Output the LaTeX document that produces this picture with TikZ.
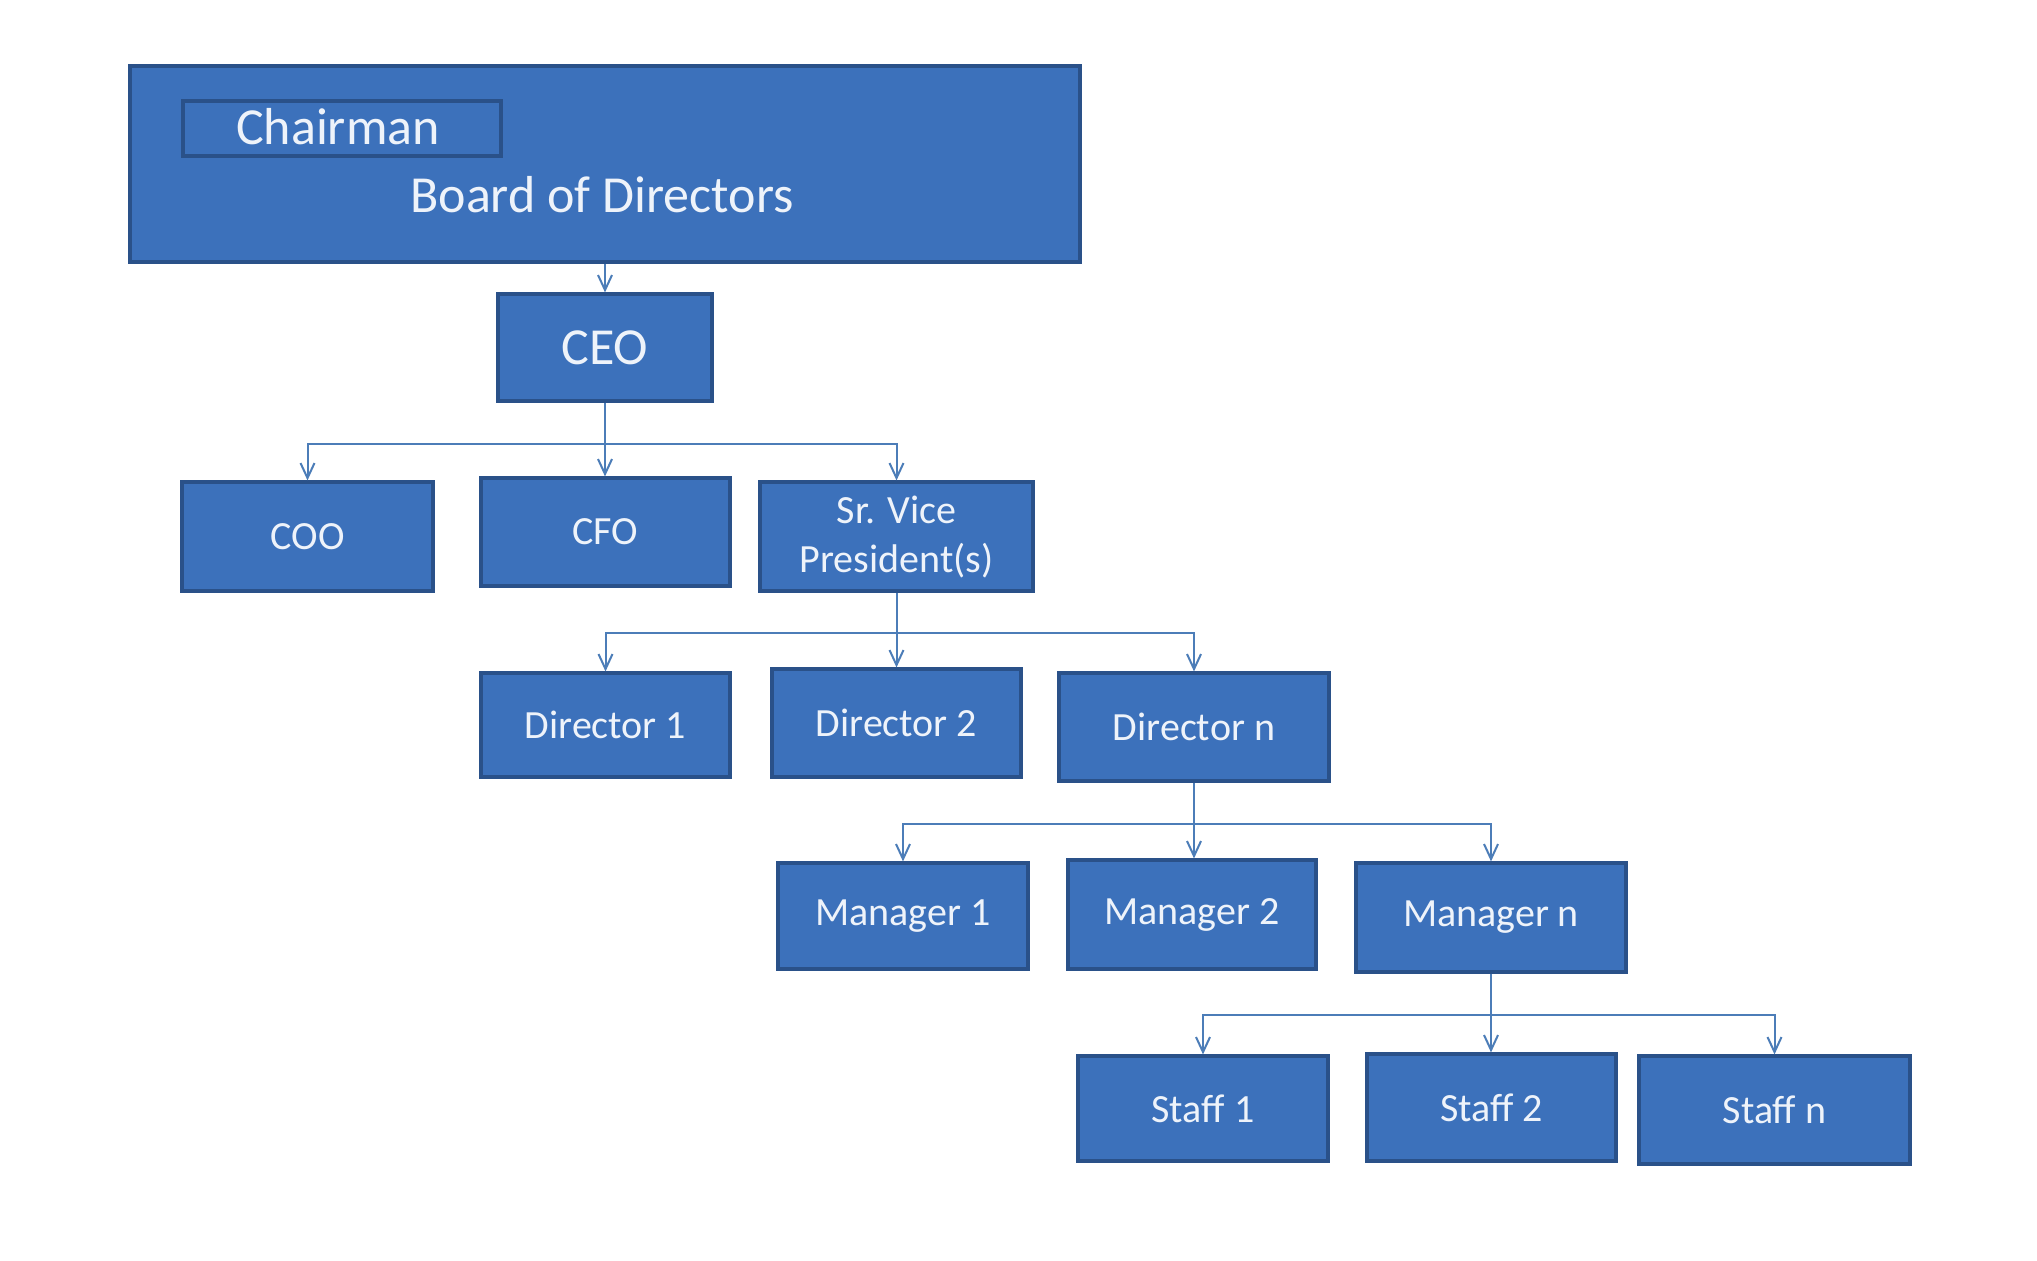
\documentclass[tikz,border=0pt]{standalone}
\usepackage{fontspec}
\setmainfont{Carlito}
\usetikzlibrary{arrows.meta}
\definecolor{boxfill}{HTML}{3C71BB}
\definecolor{boxline}{HTML}{2A5189}
\definecolor{connline}{HTML}{4C7DB8}
\definecolor{txt}{HTML}{EEF3FA}
\begin{document}
\begin{tikzpicture}[x=0.5pt,y=-0.5pt,
  orgbox/.style={draw=boxline, fill=boxfill, line width=1.6pt, inner sep=0pt,
    text=txt, font=\fontsize{20}{24.5}\selectfont, align=center},
  conn/.style={draw=connline, line width=1pt,
    -{Straight Barb[length=7.5pt,width=7pt,line width=1pt]}},
  plain/.style={draw=connline, line width=1pt}]
\useasboundingbox[fill=white] (0,0) rectangle (2037,1260);
% top block
\node[orgbox, minimum width=475pt, minimum height=98pt] (board) at (605,164) {};
\node[draw=boxline, line width=1.6pt, minimum width=159pt, minimum height=27.5pt, inner sep=0pt] (chairbox) at (342,128.5) {};
\node[text=txt, font=\fontsize{26}{30}\selectfont, inner sep=0pt] (chair) at (338,127) {Chairman};
\node[text=txt, font=\fontsize{26}{30}\selectfont, inner sep=0pt] (bod) at (602,195) {Board of Directors};
\node[orgbox, minimum width=107pt, minimum height=53.5pt, font=\fontsize{26}{30}\selectfont] (ceo) at (605,347.5) {CEO};
% level 2
\node[orgbox, minimum width=125.5pt, minimum height=54.5pt] (coo) at (307.5,536.5) {COO};
\node[orgbox, minimum width=124.5pt, minimum height=54pt] (cfo) at (605.5,532) {CFO};
\node[orgbox, minimum width=136.5pt, minimum height=54.5pt] (svp) at (896.5,536.5) {Sr. Vice\\President(s)};
% level 3
\node[orgbox, minimum width=124.5pt, minimum height=52pt] (d1) at (605.5,725) {Director 1};
\node[orgbox, minimum width=124.5pt, minimum height=54pt] (d2) at (896.5,723) {Director 2};
\node[orgbox, minimum width=135pt, minimum height=54pt] (dn) at (1194,727) {Director n};
% level 4
\node[orgbox, minimum width=125pt, minimum height=53pt] (m1) at (903,916) {Manager 1};
\node[orgbox, minimum width=124pt, minimum height=54.5pt] (m2) at (1192,914.5) {Manager 2};
\node[orgbox, minimum width=135pt, minimum height=54.5pt] (mn) at (1491,917.5) {Manager n};
% level 5
\node[orgbox, minimum width=125pt, minimum height=52.5pt] (s1) at (1203,1108.5) {Staff 1};
\node[orgbox, minimum width=124.5pt, minimum height=53.5pt] (s2) at (1491.5,1107.5) {Staff 2};
\node[orgbox, minimum width=135.5pt, minimum height=54pt] (sn) at (1774.5,1110) {Staff n};
% junctions
\coordinate (j1) at (605,444);
\coordinate (j2) at (896.5,633);
\coordinate (j3) at (1194,824);
\coordinate (j4) at (1491,1015);
% connectors
\draw[conn] (board.south -| ceo.north) -- (ceo.north);
\draw[plain] (ceo.south) -- (j1);
\draw[conn] (j1) -| (coo.north);
\draw[conn] (j1) -- (j1 |- cfo.north);
\draw[conn] (j1) -| (svp.north);
\draw[plain] (svp.south) -- (j2);
\draw[conn] (j2) -| (d1.north);
\draw[conn] (j2) -- (d2.north);
\draw[conn] (j2) -| (dn.north);
\draw[plain] (dn.south) -- (j3);
\draw[conn] (j3) -| (m1.north);
\draw[conn] (j3) -- (j3 |- m2.north);
\draw[conn] (j3) -| (mn.north);
\draw[plain] (mn.south) -- (j4);
\draw[conn] (j4) -| (s1.north);
\draw[conn] (j4) -- (j4 |- s2.north);
\draw[conn] (j4) -| (sn.north);
\end{tikzpicture}
\end{document}
